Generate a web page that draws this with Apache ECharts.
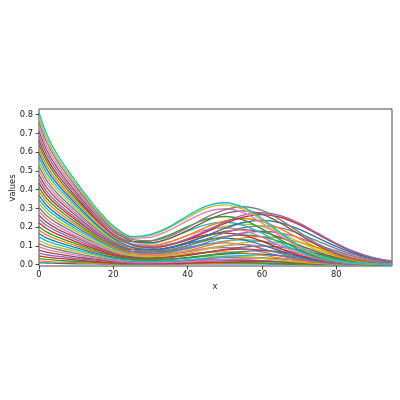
<!DOCTYPE html>
<html><head><meta charset="utf-8">
<script src="https://cdn.jsdelivr.net/npm/echarts@6.0.0/dist/echarts.min.js"></script>
<style>html,body{margin:0;padding:0;background:#fff}#c{width:400px;height:400px}</style>
</head><body><div id="c"></div>
<script>
const xs = [0,2,5,10,15,20,25,30,35,40,45,50,55,60,65,70,75,80,85,90,95];
const xTicks = [0,20,40,60,80];
const yTicks = [0.0,0.1,0.2,0.3,0.4,0.5,0.6,0.7,0.8];
const line39 = [0.810,0.698,0.584,0.441,0.312,0.206,0.150,0.162,0.202,0.261,0.312,0.330,0.307,0.246,0.170,0.101,0.052,0.023,0.009,0.003,0.001];
const line38 = [0.785,0.676,0.566,0.428,0.301,0.200,0.147,0.156,0.196,0.251,0.302,0.319,0.296,0.237,0.164,0.098,0.050,0.022,0.009,0.003,0.001];
const line37 = [0.761,0.655,0.549,0.414,0.291,0.187,0.135,0.128,0.150,0.197,0.252,0.292,0.309,0.290,0.239,0.174,0.111,0.063,0.031,0.014,0.005];
const line36 = [0.736,0.634,0.531,0.401,0.282,0.187,0.142,0.146,0.183,0.235,0.282,0.298,0.277,0.222,0.153,0.091,0.047,0.021,0.008,0.003,0.001];
const line35 = [0.712,0.613,0.514,0.387,0.271,0.176,0.126,0.118,0.139,0.183,0.234,0.272,0.287,0.269,0.222,0.162,0.103,0.058,0.029,0.013,0.005];
const line34 = [0.688,0.592,0.496,0.374,0.260,0.163,0.110,0.095,0.108,0.138,0.181,0.228,0.264,0.277,0.262,0.222,0.168,0.114,0.069,0.037,0.018];
const line33 = [0.664,0.571,0.479,0.361,0.251,0.158,0.106,0.092,0.104,0.133,0.175,0.220,0.254,0.267,0.253,0.214,0.162,0.110,0.066,0.036,0.018];
const line32 = [0.641,0.552,0.463,0.349,0.246,0.163,0.123,0.126,0.158,0.203,0.243,0.257,0.239,0.191,0.132,0.079,0.040,0.018,0.007,0.002,0.001];
const line31 = [0.617,0.531,0.445,0.336,0.235,0.152,0.107,0.101,0.120,0.156,0.200,0.233,0.246,0.231,0.191,0.139,0.089,0.050,0.025,0.011,0.004];
const line30 = [0.594,0.511,0.429,0.323,0.224,0.141,0.092,0.081,0.091,0.115,0.155,0.194,0.225,0.236,0.223,0.189,0.143,0.097,0.059,0.032,0.016];
const line29 = [0.571,0.491,0.412,0.311,0.219,0.145,0.110,0.111,0.139,0.179,0.214,0.226,0.210,0.168,0.116,0.069,0.035,0.016,0.006,0.002,0.001];
const line28 = [0.548,0.471,0.396,0.298,0.209,0.135,0.095,0.090,0.105,0.138,0.176,0.204,0.216,0.203,0.167,0.122,0.078,0.044,0.022,0.010,0.004];
const line27 = [0.524,0.451,0.378,0.285,0.198,0.124,0.082,0.071,0.080,0.101,0.136,0.170,0.197,0.207,0.196,0.166,0.126,0.085,0.052,0.028,0.014];
const line26 = [0.502,0.432,0.362,0.273,0.193,0.127,0.095,0.098,0.121,0.156,0.187,0.197,0.183,0.147,0.101,0.060,0.031,0.014,0.005,0.002,0.000];
const line25 = [0.479,0.412,0.346,0.261,0.182,0.117,0.082,0.078,0.091,0.120,0.152,0.177,0.187,0.175,0.145,0.105,0.067,0.038,0.019,0.008,0.003];
const line24 = [0.456,0.392,0.329,0.247,0.172,0.108,0.071,0.061,0.069,0.087,0.117,0.146,0.169,0.178,0.168,0.143,0.108,0.073,0.044,0.024,0.012];
const line23 = [0.435,0.374,0.314,0.237,0.167,0.110,0.082,0.084,0.104,0.133,0.159,0.168,0.156,0.125,0.086,0.051,0.026,0.012,0.005,0.002,0.000];
const line22 = [0.412,0.354,0.298,0.224,0.156,0.101,0.070,0.067,0.077,0.102,0.129,0.150,0.159,0.149,0.123,0.090,0.057,0.032,0.016,0.007,0.003];
const line21 = [0.391,0.336,0.282,0.212,0.148,0.093,0.061,0.052,0.058,0.074,0.099,0.123,0.143,0.150,0.142,0.120,0.091,0.062,0.037,0.020,0.010];
const line20 = [0.369,0.317,0.267,0.201,0.142,0.093,0.070,0.070,0.088,0.112,0.135,0.142,0.132,0.106,0.073,0.043,0.022,0.010,0.004,0.001,0.000];
const line19 = [0.348,0.299,0.252,0.189,0.133,0.086,0.060,0.056,0.065,0.085,0.109,0.126,0.133,0.125,0.103,0.075,0.048,0.027,0.013,0.006,0.002];
const line18 = [0.327,0.281,0.235,0.178,0.123,0.077,0.050,0.043,0.048,0.061,0.082,0.102,0.118,0.124,0.117,0.099,0.075,0.051,0.031,0.017,0.008];
const line17 = [0.305,0.262,0.220,0.166,0.117,0.077,0.058,0.058,0.072,0.092,0.110,0.116,0.108,0.086,0.060,0.035,0.018,0.008,0.003,0.001,0.000];
const line16 = [0.284,0.244,0.204,0.154,0.108,0.069,0.048,0.045,0.053,0.068,0.087,0.101,0.107,0.100,0.083,0.060,0.039,0.022,0.011,0.005,0.002];
const line15 = [0.264,0.227,0.190,0.144,0.100,0.062,0.041,0.035,0.038,0.048,0.065,0.081,0.094,0.099,0.094,0.079,0.060,0.041,0.025,0.013,0.007];
const line14 = [0.244,0.210,0.176,0.133,0.093,0.062,0.045,0.046,0.056,0.072,0.086,0.091,0.085,0.068,0.047,0.028,0.014,0.006,0.002,0.001,0.000];
const line13 = [0.224,0.193,0.161,0.122,0.085,0.054,0.038,0.035,0.041,0.053,0.067,0.079,0.083,0.078,0.064,0.047,0.030,0.017,0.008,0.004,0.001];
const line12 = [0.204,0.175,0.147,0.111,0.076,0.048,0.031,0.026,0.029,0.036,0.049,0.062,0.071,0.075,0.071,0.060,0.046,0.031,0.019,0.010,0.005];
const line11 = [0.185,0.159,0.133,0.101,0.070,0.047,0.034,0.034,0.043,0.054,0.065,0.068,0.063,0.051,0.035,0.021,0.011,0.005,0.002,0.001,0.000];
const line10 = [0.166,0.143,0.120,0.091,0.063,0.041,0.028,0.026,0.030,0.038,0.049,0.057,0.060,0.056,0.047,0.034,0.022,0.012,0.006,0.003,0.001];
const line9 = [0.148,0.127,0.107,0.080,0.056,0.035,0.023,0.019,0.021,0.026,0.035,0.044,0.050,0.053,0.050,0.042,0.032,0.022,0.013,0.007,0.003];
const line8 = [0.129,0.111,0.093,0.071,0.050,0.032,0.023,0.023,0.029,0.037,0.044,0.046,0.043,0.034,0.024,0.014,0.007,0.003,0.001,0.000,0.000];
const line7 = [0.112,0.096,0.081,0.060,0.042,0.028,0.018,0.017,0.019,0.025,0.033,0.038,0.040,0.038,0.031,0.023,0.014,0.008,0.004,0.002,0.001];
const line6 = [0.095,0.082,0.068,0.051,0.036,0.022,0.014,0.012,0.013,0.017,0.022,0.028,0.032,0.034,0.032,0.027,0.021,0.014,0.008,0.005,0.002];
const line5 = [0.078,0.067,0.056,0.042,0.030,0.019,0.014,0.014,0.017,0.022,0.025,0.027,0.025,0.020,0.014,0.008,0.004,0.002,0.001,0.000,0.000];
const line4 = [0.062,0.053,0.045,0.033,0.024,0.015,0.010,0.009,0.011,0.014,0.018,0.021,0.022,0.021,0.017,0.012,0.008,0.004,0.002,0.001,0.000];
const line3 = [0.047,0.040,0.034,0.025,0.017,0.011,0.008,0.006,0.006,0.008,0.011,0.014,0.016,0.017,0.016,0.014,0.010,0.007,0.004,0.002,0.001];
const line2 = [0.032,0.028,0.023,0.017,0.012,0.008,0.006,0.006,0.007,0.009,0.011,0.012,0.011,0.009,0.006,0.004,0.002,0.001,0.000,0.000,0.000];
const line1 = [0.020,0.017,0.014,0.011,0.007,0.005,0.004,0.003,0.004,0.005,0.006,0.008,0.008,0.008,0.006,0.005,0.003,0.002,0.001,0.000,0.000];
const line0 = [0.010,0.009,0.007,0.005,0.004,0.003,0.002,0.002,0.003,0.004,0.005,0.005,0.005,0.004,0.003,0.002,0.001,0.000,0.000,0.000,0.000];

const allLines = [line0,line1,line2,line3,line4,line5,line6,line7,line8,line9,
  line10,line11,line12,line13,line14,line15,line16,line17,line18,line19,
  line20,line21,line22,line23,line24,line25,line26,line27,line28,line29,
  line30,line31,line32,line33,line34,line35,line36,line37,line38,line39];
const tab10 = ['#1f77b4','#ff7f0e','#2ca02c','#d62728','#9467bd','#8c564b','#e377c2','#7f7f7f','#bcbd22','#17becf'];

const L = 39, W = 353, T = 109, H = 157;
const XMAX = 95, YMIN = -0.007, YMAX = 0.83;
const pxPerX = W / XMAX, pxPerY = H / (YMAX - YMIN);
const zeroPx = T + H + YMIN * pxPerY; // pixel of y=0
const topTickPx = zeroPx - yTicks[yTicks.length-1] * pxPerY;
const txtColor = '#222';
const fs = 8.3;

const chart = echarts.init(document.getElementById('c'), null, {renderer:'canvas'});
chart.setOption({
  animation: false,
  backgroundColor: '#fff',
  grid: [
    {left: L, top: T, width: W, height: H, show: true, borderColor: '#333', borderWidth: 0.9, backgroundColor: 'transparent'},
    {left: L, top: T, width: xTicks[xTicks.length-1] * pxPerX, height: H},
    {left: L, top: topTickPx, width: W, height: zeroPx - topTickPx}
  ],
  xAxis: [
    {gridIndex: 0, type: 'value', min: 0, max: XMAX, axisLine: {show: false}, axisTick: {show: false}, axisLabel: {show: false}, splitLine: {show: false}},
    {gridIndex: 1, type: 'value', min: 0, max: xTicks[xTicks.length-1], interval: 20, axisLine: {show: false},
     axisTick: {show: true, length: 3.5, lineStyle: {color: txtColor, width: 0.8}},
     axisLabel: {show: true, color: txtColor, fontSize: fs, fontFamily: 'DejaVu Sans', margin: 5}, splitLine: {show: false}},
    {gridIndex: 2, type: 'value', show: false, min: 0, max: 1}
  ],
  yAxis: [
    {gridIndex: 0, type: 'value', min: YMIN, max: YMAX, axisLine: {show: false}, axisTick: {show: false}, axisLabel: {show: false}, splitLine: {show: false}},
    {gridIndex: 1, type: 'value', show: false, min: 0, max: 1},
    {gridIndex: 2, type: 'value', min: 0, max: yTicks[yTicks.length-1], interval: 0.1, axisLine: {show: false},
     axisTick: {show: true, length: 3.5, lineStyle: {color: txtColor, width: 0.8}},
     axisLabel: {show: true, color: txtColor, fontSize: fs, fontFamily: 'DejaVu Sans', margin: 6, formatter: v => v.toFixed(1)}, splitLine: {show: false}}
  ],
  graphic: [
    {type: 'text', x: L + W/2 - 0.5, y: 287, style: {text: 'x', fontSize: fs, fontFamily: 'DejaVu Sans', fill: txtColor, align: 'center', verticalAlign: 'middle'}},
    {type: 'text', x: 12.5, y: 188, rotation: Math.PI/2, style: {text: 'values', fontSize: fs, fontFamily: 'DejaVu Sans', fill: txtColor, align: 'center', verticalAlign: 'middle'}}
  ],
  series: allLines.map((ln, i) => ({
    type: 'line', xAxisIndex: 0, yAxisIndex: 0,
    data: xs.map((x, j) => [x, ln[j]]),
    showSymbol: false, symbol: 'none', smooth: 0.25, silent: true,
    lineStyle: {width: 1.35, color: tab10[i % 10]}, itemStyle: {color: tab10[i % 10]},
    z: 2 + i * 0.01
  }))
});
</script>
</body></html>
